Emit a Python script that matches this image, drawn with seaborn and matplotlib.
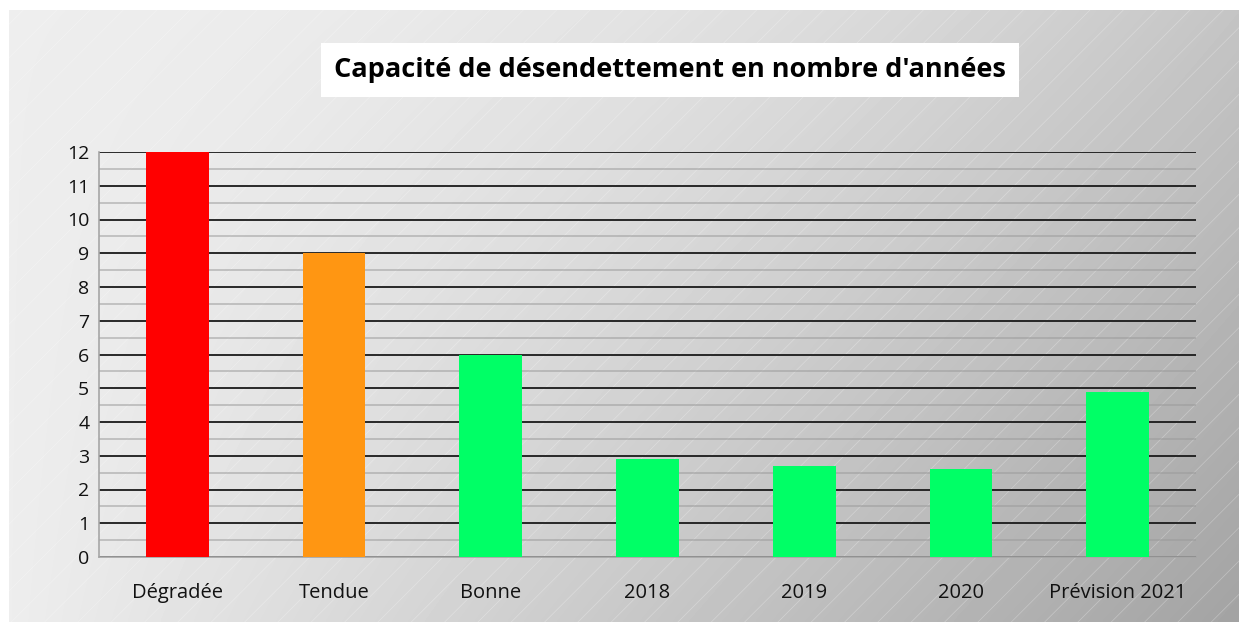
import numpy as np
import pandas as pd
import seaborn as sns
import matplotlib.pyplot as plt
from matplotlib.patches import Rectangle
from matplotlib.ticker import MultipleLocator

# --- data ---
categories = ['Dégradée', 'Tendue', 'Bonne', '2018', '2019', '2020', 'Prévision 2021']
years_needed = [12, 9, 6, 2.9, 2.7, 2.6, 4.9]
bar_colors = ['#ff0000', '#ff9612', '#00ff66', '#00ff66', '#00ff66', '#00ff66', '#00ff66']
y_ticks = list(range(0, 13))
title = "Capacité de désendettement en nombre d'années"

df = pd.DataFrame({'categorie': categories, 'annees': years_needed})

sns.set_style('white')
plt.rcParams['font.family'] = ['Open Sans', 'DejaVu Sans']
plt.rcParams['hatch.linewidth'] = 0.5

fig = plt.figure(figsize=(12.39, 6.22), dpi=100)

# --- background panel: grey gradient + light diagonal hatching ---
bg = fig.add_axes([9 / 1239, 0, 1 - 9 / 1239, 612 / 622], zorder=0)
xx, yy = np.meshgrid(np.linspace(0, 1, 400), np.linspace(0, 1, 200))
shade = 0.93 - 0.16 * xx ** (2 - yy) - 0.13 * xx * yy
bg.imshow(shade, cmap='gray', vmin=0, vmax=1, extent=[0, 1, 0, 1],
          origin='upper', aspect='auto', interpolation='bilinear')
bg.add_patch(Rectangle((0, 0), 1, 1, transform=bg.transAxes, facecolor='none',
                       edgecolor=(1, 1, 1, 0.3), hatch='/', lw=0))
bg.set_xlim(0, 1)
bg.set_ylim(0, 1)
bg.axis('off')

# --- main chart ---
ax = fig.add_axes([99 / 1239, 65 / 622, (1196 - 99) / 1239, (557 - 152) / 622], zorder=1)
ax.patch.set_alpha(0)
sns.barplot(data=df, x='categorie', y='annees', hue='categorie', palette=bar_colors,
            legend=False, width=0.4, saturation=1, linewidth=0, ax=ax, zorder=3)

ax.set_ylim(0, 12)
ax.set_xlim(-0.5, len(categories) - 0.5)
ax.set_yticks(y_ticks)
ax.yaxis.set_minor_locator(MultipleLocator(0.5))
ax.grid(axis='y', which='major', color='#1a1a1a', lw=1.3, zorder=1)
ax.grid(axis='y', which='minor', color='#9a9a9a', lw=1.2, alpha=0.6, zorder=1)
ax.set_axisbelow(True)

for side in ['top', 'right']:
    ax.spines[side].set_visible(False)
for side in ['left', 'bottom']:
    ax.spines[side].set_color('#a6a6a6')
    ax.spines[side].set_linewidth(1.2)

ax.tick_params(axis='y', which='both', direction='in', length=6, color='#a6a6a6',
               width=1.2, labelsize=14, pad=7, labelcolor='#111111')
ax.tick_params(axis='x', length=0, labelsize=14.5, pad=19, labelcolor='#111111')
ax.set_xlabel('')
ax.set_ylabel('')

fig.text(670 / 1239, 1 - 70 / 622, title, ha='center', va='center',
         fontsize=19.5, fontweight='bold', color='black',
         bbox=dict(boxstyle='square,pad=0.5', facecolor='white', edgecolor='none'))

fig.savefig('out.png', dpi=100)
